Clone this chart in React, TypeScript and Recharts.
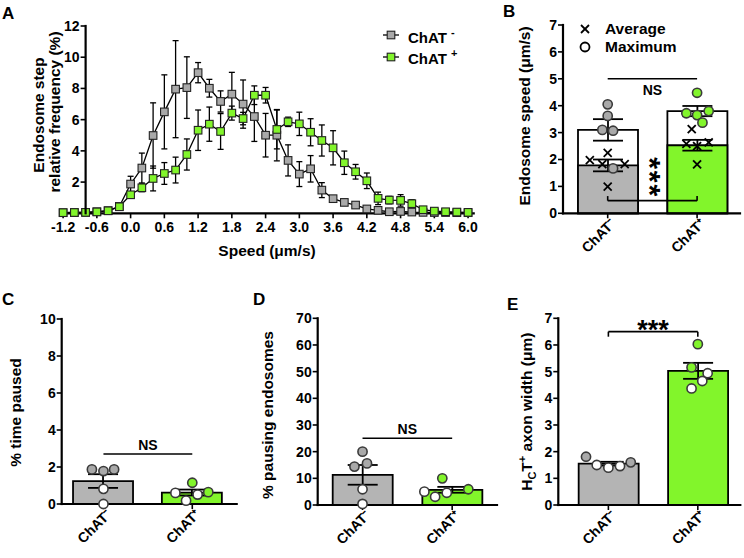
import React from 'react';
import {
  ComposedChart, Line, Bar, Scatter, Cell, XAxis, YAxis,
  ErrorBar, ReferenceLine, Legend,
} from 'recharts';

const FONT = '"Liberation Sans", Arial, Helvetica, sans-serif';
const GRAY_BAR = '#b4b4b4';
const GRAY_PT = '#a9a9a9';
const GREEN = '#82f52b';
const PT_STROKE = '#3a3a3a';

// ---------------- Panel A data ----------------
const speeds = [-1.2, -1.0, -0.8, -0.6, -0.4, -0.2, 0.0, 0.2, 0.4, 0.6, 0.8, 1.0, 1.2, 1.4, 1.6, 1.8, 2.0, 2.2, 2.4, 2.6, 2.8, 3.0, 3.2, 3.4, 3.6, 3.8, 4.0, 4.2, 4.4, 4.6, 4.8, 5.0, 5.2, 5.4, 5.6, 5.8, 6.0];
const grayFreq = [0, 0.01, 0.02, 0.06, 0.13, 0.4, 1.84, 2.87, 4.96, 6.48, 7.94, 8.04, 9.0, 8.0, 7.15, 7.62, 6.98, 6.18, 4.98, 4.98, 3.36, 2.48, 2.82, 1.45, 0.9, 0.66, 0.49, 0.24, 0.15, 0.06, 0.08, 0.04, 0.02, 0.01, 0.01, 0, 0];
const grayFreqSem = [0, 0, 0, 0.03, 0.05, 0.1, 0.5, 0.96, 2.1, 2.38, 3.12, 1.98, 0.65, 0.57, 0.68, 1.4, 1.55, 1.6, 1.4, 1.65, 1.0, 0.8, 0.85, 0.48, 0.15, 0.1, 0.06, 0.05, 0.04, 0.03, 0.12, 0.02, 0.01, 0, 0, 0, 0];
const greenFreq = [0, 0.01, 0.02, 0.05, 0.12, 0.38, 1.15, 1.6, 2.2, 2.52, 2.74, 3.74, 5.3, 5.69, 5.22, 6.4, 6.05, 7.55, 7.55, 5.35, 5.84, 5.71, 5.17, 4.64, 4.17, 3.21, 2.63, 2.05, 0.92, 0.81, 0.79, 0.58, 0.19, 0.1, 0.06, 0.04, 0.02];
const greenFreqSem = [0, 0, 0, 0.02, 0.04, 0.08, 0.2, 0.25, 0.8, 0.7, 0.83, 1.0, 1.3, 1.1, 1.15, 0.45, 0.4, 0.6, 0.5, 1.25, 0.3, 0.75, 0.87, 1.0, 1.1, 0.75, 0.47, 0.5, 0.4, 0.24, 0.37, 0.25, 0.1, 0.05, 0.03, 0.02, 0.01];
const speedTicks = [-1.2, -0.6, 0, 0.6, 1.2, 1.8, 2.4, 3.0, 3.6, 4.2, 4.8, 5.4, 6.0];
const freqTicks = [2, 4, 6, 8, 10, 12];

// ---------------- groups ----------------
const groupLabels = ['ChAT\u207B', 'ChAT\u207A'];

// ---------------- Panel B data ----------------
const bMaxMean = [3.1, 3.8];
const bMaxSem = [0.4, 0.19];
const bAvgMean = [1.78, 2.53];
const bAvgSem = [0.22, 0.2];
const bGrayMax = [4.05, 3.62, 3.1, 3.07, 1.67];
const bGrayMaxJit = [0, 0, -0.06, 0.06, 0.06];
const bGrayAvg = [2.25, 1.98, 1.83, 1.83, 0.99];
const bGrayAvgJit = [0, -0.2, -0.06, 0.19, 0];
const bGreenMax = [4.48, 3.72, 3.65, 3.8, 3.37];
const bGreenMaxJit = [0, -0.12, 0, 0.13, 0.06];
const bGreenAvg = [3.13, 2.58, 2.5, 2.64, 1.82];
const bGreenAvgJit = [-0.06, -0.12, 0, 0.13, 0];
const bTicks = [0, 1, 2, 3, 4, 5, 6, 7];

// ---------------- Panel C data ----------------
const cMean = [1.24, 0.62];
const cSem = [0.37, 0.16];
const cGray = [1.87, 1.78, 1.87, 0.82, 0];
const cGrayJit = [-0.13, 0, 0.12, 0, 0];
const cGreen = [1.15, 0.6, 0.18, 0.51, 0.64];
const cGreenJit = [0, -0.19, -0.07, 0.06, 0.18];
const cTicks = [0, 2, 4, 6, 8, 10];

// ---------------- Panel D data ----------------
const dMean = [11.3, 5.7];
const dSem = [3.7, 1.1];
const dGray = [20, 14.4, 15.6, 5.9, 0.4];
const dGrayJit = [0, -0.09, 0.05, 0, 0];
const dGreen = [10, 5, 3.1, 4.6, 5.9];
const dGreenJit = [-0.11, -0.31, -0.19, -0.06, 0.18];
const dTicks = [0, 10, 20, 30, 40, 50, 60, 70];

// ---------------- Panel E data ----------------
const eMean = [1.55, 5.03];
const eSem = [0.07, 0.3];
const eGray = [1.81, 1.5, 1.4, 1.46, 1.6];
const eGrayJit = [-0.25, -0.13, 0, 0.13, 0.25];
const eGreen = [6.03, 5.16, 4.94, 4.65, 4.37];
const eGreenJit = [0, -0.07, 0.11, 0.05, -0.07];
const eTicks = [0, 1, 2, 3, 4, 5, 6, 7];

// ---------------- helpers ----------------
type Box = { left: number; top: number; width: number; height: number };

function margins(box: Box, plot: Box, yAxisW: number, xAxisH: number) {
  const l = plot.left - box.left;
  const t = plot.top - box.top;
  return {
    left: l - yAxisW,
    top: t,
    right: box.width - l - plot.width,
    bottom: box.height - t - plot.height - xAxisH,
  };
}

const barRows = (mean: number[], sem: number[]) => mean.map((y, i) => ({ x: i, y, e: sem[i] }));
const ptRows = (vals: number[], jit: number[], g: number) => vals.map((y, i) => ({ x: g + jit[i], y }));

const tickStyle = { fontSize: 14, fontWeight: 700, fill: '#000', fontFamily: FONT };
const catTickStyle = { ...tickStyle, angle: -45, textAnchor: 'end', dx: 2, dy: -3 };
const tickLineStyle = { stroke: '#000', strokeWidth: 1.6 };
const axisLineStyle = { stroke: '#000', strokeWidth: 2.2, strokeLinecap: 'square' as const };

const VTitle = ({ x, y, children, size = 15.5 }: any) => (
  <g transform={`translate(${x} ${y}) rotate(-90)`}>
    <text x={0} y={0} textAnchor="middle" fontFamily={FONT} fontWeight={700} fontSize={size} fill="#000">{children}</text>
  </g>
);

const circleShape = (fill: string, mean: number | null) => (props: any) => {
  const { cx, cy, payload } = props;
  const f = mean != null && payload.y < mean ? '#ffffff' : fill;
  return <circle cx={cx} cy={cy} r={4.6} fill={f} stroke={PT_STROKE} strokeWidth={1.6} />;
};

const crossShape = (props: any) => {
  const { cx, cy } = props;
  const h = 4;
  return (
    <g>
      <line x1={cx - h} y1={cy - h} x2={cx + h} y2={cy + h} stroke="#000" strokeWidth={1.8} />
      <line x1={cx - h} y1={cy + h} x2={cx + h} y2={cy - h} stroke="#000" strokeWidth={1.8} />
    </g>
  );
};

// ---------------- Panel A ----------------
const A_BOX: Box = { left: 0, top: 0, width: 490, height: 270 };
const A_PLOT: Box = { left: 60.3, top: 26, width: 413.4, height: 187.3 };
const A_XDOM: [number, number] = [-1.25, 6.1];
const A_YDOM: [number, number] = [0, 12];
const A_XH = 45;
const A_YAXIS_AT = -0.8;
// the y axis of panel A crosses the x axis at -0.8, inside the data range
const aYAxisPx = A_PLOT.left + ((A_YAXIS_AT - A_XDOM[0]) / (A_XDOM[1] - A_XDOM[0])) * A_PLOT.width;
const aYPx = (v: number) => A_PLOT.top + (1 - (v - A_YDOM[0]) / (A_YDOM[1] - A_YDOM[0])) * A_PLOT.height;

const aRows = speeds.map((x, i) => ({
  x, gray: grayFreq[i], grayE: grayFreqSem[i], green: greenFreq[i], greenE: greenFreqSem[i],
}));

const squareDot = (fill: string, tag: string) => (props: any) => {
  const { cx, cy, index } = props;
  if (cx == null || cy == null) return <g key={`${tag}${index}`} />;
  return <rect key={`${tag}${index}`} x={cx - 3.8} y={cy - 3.8} width={7.6} height={7.6} fill={fill} stroke="#222" strokeWidth={1.1} />;
};

const legendAItems = [
  { fill: GRAY_PT, sign: '-' },
  { fill: GREEN, sign: '+' },
];

const LegendA = () => (
  <svg width={95} height={48} style={{ display: 'block', overflow: 'visible' }}>
    {legendAItems.map((it, i) => (
      <g key={i}>
        <line x1={5} x2={21} y1={13 + i * 22} y2={13 + i * 22} stroke="#000" strokeWidth={1.3} />
        <rect x={13 - 3.8} y={13 + i * 22 - 3.8} width={7.6} height={7.6} fill={it.fill} stroke="#222" strokeWidth={1.1} />
        <text x={30} y={20.5 + i * 21} fontFamily={FONT} fontWeight={700} fontSize={15} fill="#000">
          ChAT<tspan dx={4} dy={-7} fontSize={11}>{it.sign}</tspan>
        </text>
      </g>
    ))}
  </svg>
);

const AYAxis = () => (
  <g>
    <line x1={aYAxisPx} x2={aYAxisPx} y1={aYPx(A_YDOM[1])} y2={aYPx(A_YDOM[0])} stroke="#000" strokeWidth={2.2} strokeLinecap="square" />
    {freqTicks.map((t) => (
      <g key={t}>
        <line x1={aYAxisPx - 5} x2={aYAxisPx} y1={aYPx(t)} y2={aYPx(t)} stroke="#000" strokeWidth={1.6} />
        <text x={aYAxisPx - 6} y={aYPx(t)} dy="0.355em" textAnchor="end" fontFamily={FONT} fontWeight={700} fontSize={14} fill="#000">{t}</text>
      </g>
    ))}
    <VTitle x={44} y={115}>Endosome step</VTitle>
    <VTitle x={59.5} y={112}>relative frequency (%)</VTitle>
  </g>
);

function PanelA() {
  const mData = margins(A_BOX, A_PLOT, 0, A_XH);
  return (
    <div style={{ position: 'absolute', left: A_BOX.left, top: A_BOX.top }}>
      <ComposedChart width={A_BOX.width} height={A_BOX.height} data={aRows} margin={mData}>
        <XAxis type="number" dataKey="x" domain={A_XDOM} ticks={speedTicks} interval={0}
          tickFormatter={(v: number) => v.toFixed(1)} height={A_XH} tick={tickStyle}
          tickLine={tickLineStyle} tickSize={5} tickMargin={4} axisLine={axisLineStyle}
          label={() => (
            <text x={A_PLOT.left + A_PLOT.width / 2 - A_BOX.left} y={255.5 - A_BOX.top} textAnchor="middle"
              fontFamily={FONT} fontWeight={700} fontSize={15.5} fill="#000">Speed (μm/s)</text>
          )} />
        <YAxis type="number" domain={A_YDOM} hide />
        <Line dataKey="gray" type="linear" stroke="#000" strokeWidth={1.3} isAnimationActive={false}
          dot={squareDot(GRAY_PT, 'g')} activeDot={false}>
          <ErrorBar dataKey="grayE" width={3} stroke="#000" strokeWidth={1.3} direction="y" />
        </Line>
        <Line dataKey="green" type="linear" stroke="#000" strokeWidth={1.3} isAnimationActive={false}
          dot={squareDot(GREEN, 'n')} activeDot={false}>
          <ErrorBar dataKey="greenE" width={3} stroke="#000" strokeWidth={1.3} direction="y" />
        </Line>
        <Legend layout="vertical" align="center" verticalAlign="middle"
          wrapperStyle={{ left: 378 - A_BOX.left, top: 22 - A_BOX.top, width: 95, height: 48 }}
          content={() => <LegendA />} />
      </ComposedChart>
    </div>
  );
}

// ---------------- Panel B ----------------
const B_BOX: Box = { left: 490, top: 0, width: 254, height: 300 };
const B_PLOT: Box = { left: 563, top: 25, width: 177, height: 188.3 };
const B_XDOM: [number, number] = [-0.5, 1.48];

const bRows = bMaxMean.map((mx, i) => ({ x: i, max: mx, maxE: bMaxSem[i], avg: bAvgMean[i], avgE: bAvgSem[i] }));
const barFills = [GRAY_BAR, GREEN];
const ptFills = [GRAY_PT, GREEN];

const LegendB = () => (
  <svg width={110} height={42} style={{ display: 'block', overflow: 'visible' }}>
    <line x1={3} y1={7} x2={11} y2={15} stroke="#000" strokeWidth={1.8} />
    <line x1={3} y1={15} x2={11} y2={7} stroke="#000" strokeWidth={1.8} />
    <circle cx={7} cy={29} r={4.5} fill="#fff" stroke="#000" strokeWidth={1.8} />
    <text x={27} y={16.3} fontFamily={FONT} fontWeight={700} fontSize={15.5} fill="#000">Average</text>
    <text x={27} y={33.7} fontFamily={FONT} fontWeight={700} fontSize={15.5} fill="#000">Maximum</text>
  </svg>
);

const catFormatter = (v: number) => groupLabels[Math.round(v)] ?? '';

function PanelB() {
  const m = margins(B_BOX, B_PLOT, 30, 60);
  return (
    <div style={{ position: 'absolute', left: B_BOX.left, top: B_BOX.top }}>
      <ComposedChart width={B_BOX.width} height={B_BOX.height} data={bRows} margin={m}>
        <XAxis xAxisId={0} type="number" dataKey="x" domain={B_XDOM} ticks={[0, 1]} interval={0} height={60}
          tick={catTickStyle} tickFormatter={catFormatter} tickLine={tickLineStyle} tickSize={5} tickMargin={2} axisLine={axisLineStyle} />
        <XAxis xAxisId={1} type="number" dataKey="x" domain={B_XDOM} hide />
        <XAxis xAxisId={2} type="number" dataKey="x" domain={B_XDOM} hide />
        <YAxis type="number" dataKey="y" domain={[0, 7]} ticks={bTicks} interval={0} width={30}
          tick={tickStyle} tickLine={tickLineStyle} tickSize={5} tickMargin={1} axisLine={axisLineStyle}
          label={() => <VTitle x={529.5 - B_BOX.left} y={116 - B_BOX.top}>Endosome speed (μm/s)</VTitle>} />
        <Bar xAxisId={1} dataKey="max" barSize={60} fill="#fff" stroke="#000" strokeWidth={1.8} isAnimationActive={false}>
          <ErrorBar dataKey="maxE" width={15} stroke="#000" strokeWidth={1.8} direction="y" />
        </Bar>
        <Bar xAxisId={0} dataKey="avg" barSize={60} stroke="#000" strokeWidth={1.8} isAnimationActive={false}>
          {bRows.map((_, i) => <Cell key={i} fill={barFills[i]} />)}
          <ErrorBar dataKey="avgE" width={15} stroke="#000" strokeWidth={1.8} direction="y" />
        </Bar>
        <Scatter xAxisId={2} data={ptRows(bGrayAvg, bGrayAvgJit, 0)} shape={crossShape} isAnimationActive={false} />
        <Scatter xAxisId={2} data={ptRows(bGreenAvg, bGreenAvgJit, 1)} shape={crossShape} isAnimationActive={false} />
        <Scatter xAxisId={2} data={ptRows(bGrayMax, bGrayMaxJit, 0)} shape={circleShape(ptFills[0], null)} isAnimationActive={false} />
        <Scatter xAxisId={2} data={ptRows(bGreenMax, bGreenMaxJit, 1)} shape={circleShape(ptFills[1], null)} isAnimationActive={false} />
        <ReferenceLine xAxisId={0} segment={[{ x: 0, y: 5 }, { x: 1, y: 5 }]} stroke="#000" strokeWidth={1.6}
          label={(p: any) => {
            const vb = p.viewBox || {};
            return <text x={vb.x + vb.width / 2} y={vb.y + 16} textAnchor="middle" fontFamily={FONT} fontWeight={700} fontSize={14} fill="#000">NS</text>;
          }} />
        <ReferenceLine xAxisId={0} segment={[{ x: 0, y: 0.47 }, { x: 1, y: 0.47 }]} stroke="#000" strokeWidth={1.6}
          label={(p: any) => {
            const vb = p.viewBox || {};
            const cx = vb.x + vb.width / 2 - 12;
            const cy = vb.y - 23;
            return (
              <g transform={`translate(${cx} ${cy}) rotate(90)`}>
                <text x={0} y={0} textAnchor="middle" fontFamily={FONT} fontWeight={700} fontSize={30} letterSpacing={2} fill="#000">***</text>
              </g>
            );
          }} />
        <ReferenceLine xAxisId={0} segment={[{ x: 0, y: 0.47 }, { x: 0, y: 0.64 }]} stroke="#000" strokeWidth={1.6} />
        <ReferenceLine xAxisId={0} segment={[{ x: 1, y: 0.47 }, { x: 1, y: 0.64 }]} stroke="#000" strokeWidth={1.6} />
        <Legend layout="vertical" align="center" verticalAlign="middle"
          wrapperStyle={{ left: 578 - B_BOX.left, top: 18 - B_BOX.top, width: 110, height: 42 }}
          content={() => <LegendB />} />
      </ComposedChart>
    </div>
  );
}

// ---------------- Simple bar panels (C, D, E) ----------------
type SimpleCfg = {
  box: Box; plot: Box; xDom: [number, number]; yDom: [number, number]; yTicks: number[];
  mean: number[]; sem: number[]; grayPts: number[]; grayJit: number[]; greenPts: number[]; greenJit: number[];
  title: React.ReactNode; titlePos: [number, number];
  sig: { y: number; text: string; bracket?: number; font?: number; above?: number };
};

function SimplePanel({ cfg }: { cfg: SimpleCfg }) {
  const { box, plot } = cfg;
  const m = margins(box, plot, 30, 50);
  const rows = barRows(cfg.mean, cfg.sem);
  const sig = cfg.sig;
  return (
    <div style={{ position: 'absolute', left: box.left, top: box.top }}>
      <ComposedChart width={box.width} height={box.height} data={rows} margin={m}>
        <XAxis xAxisId={0} type="number" dataKey="x" domain={cfg.xDom} ticks={[0, 1]} interval={0} height={50}
          tick={catTickStyle} tickFormatter={catFormatter} tickLine={tickLineStyle} tickSize={5} tickMargin={2} axisLine={axisLineStyle} />
        <XAxis xAxisId={1} type="number" dataKey="x" domain={cfg.xDom} hide />
        <YAxis type="number" dataKey="y" domain={cfg.yDom} ticks={cfg.yTicks} interval={0} width={30}
          tick={tickStyle} tickLine={tickLineStyle} tickSize={5} tickMargin={1} axisLine={axisLineStyle}
          label={() => <VTitle x={cfg.titlePos[0] - box.left} y={cfg.titlePos[1] - box.top}>{cfg.title}</VTitle>} />
        <Bar xAxisId={0} dataKey="y" barSize={60} stroke="#000" strokeWidth={1.8} isAnimationActive={false}>
          {rows.map((_, i) => <Cell key={i} fill={barFills[i]} />)}
          <ErrorBar dataKey="e" width={15} stroke="#000" strokeWidth={1.8} direction="y" />
        </Bar>
        <Scatter xAxisId={1} data={ptRows(cfg.grayPts, cfg.grayJit, 0)} shape={circleShape(GRAY_PT, cfg.mean[0])} isAnimationActive={false} />
        <Scatter xAxisId={1} data={ptRows(cfg.greenPts, cfg.greenJit, 1)} shape={circleShape(GREEN, cfg.mean[1])} isAnimationActive={false} />
        <ReferenceLine xAxisId={0} segment={[{ x: 0, y: sig.y }, { x: 1, y: sig.y }]} stroke="#000" strokeWidth={1.6}
          label={(p: any) => {
            const vb = p.viewBox || {};
            return <text x={vb.x + vb.width / 2} y={vb.y - (sig.above ?? 4)} textAnchor="middle" fontFamily={FONT}
              fontWeight={700} fontSize={sig.font ?? 14} fill="#000">{sig.text}</text>;
          }} />
        {sig.bracket != null && (
          <ReferenceLine xAxisId={0} segment={[{ x: 0, y: sig.y }, { x: 0, y: sig.bracket }]} stroke="#000" strokeWidth={1.6} />
        )}
        {sig.bracket != null && (
          <ReferenceLine xAxisId={0} segment={[{ x: 1, y: sig.y }, { x: 1, y: sig.bracket }]} stroke="#000" strokeWidth={1.6} />
        )}
      </ComposedChart>
    </div>
  );
}

const cCfg: SimpleCfg = {
  box: { left: 0, top: 290, width: 250, height: 268 },
  plot: { left: 61.7, top: 319, width: 175, height: 185 },
  xDom: [-0.47, 1.5], yDom: [0, 10], yTicks: cTicks,
  mean: cMean, sem: cSem, grayPts: cGray, grayJit: cGrayJit, greenPts: cGreen, greenJit: cGreenJit,
  title: '% time paused', titlePos: [21, 412.5],
  sig: { y: 2.7, text: 'NS' },
};

const dCfg: SimpleCfg = {
  box: { left: 250, top: 290, width: 250, height: 268 },
  plot: { left: 317.7, top: 318.3, width: 179.3, height: 186.7 },
  xDom: [-0.5, 1.5], yDom: [0, 70], yTicks: dTicks,
  mean: dMean, sem: dSem, grayPts: dGray, grayJit: dGrayJit, greenPts: dGreen, greenJit: dGreenJit,
  title: '% pausing endosomes', titlePos: [272.5, 415],
  sig: { y: 25, text: 'NS' },
};

const eCfg: SimpleCfg = {
  box: { left: 490, top: 290, width: 254, height: 268 },
  plot: { left: 558.3, top: 318.3, width: 182, height: 186.7 },
  xDom: [-0.56, 1.475], yDom: [0, 7], yTicks: eTicks,
  mean: eMean, sem: eSem, grayPts: eGray, grayJit: eGrayJit, greenPts: eGreen, greenJit: eGreenJit,
  title: (
    <>
      H<tspan dy={4} fontSize={11}>C</tspan><tspan dy={-4}>T</tspan><tspan dy={-6} fontSize={11}>+</tspan><tspan dy={6}> axon width (μm)</tspan>
    </>
  ),
  titlePos: [532, 411.7],
  sig: { y: 6.5, text: '***', bracket: 6.31, font: 27, above: -7 },
};

const panelLetters = [
  { t: 'A', x: 2, y: 19 },
  { t: 'B', x: 503, y: 17 },
  { t: 'C', x: 2, y: 305 },
  { t: 'D', x: 253, y: 305 },
  { t: 'E', x: 507, y: 310 },
];

export default function App() {
  return (
    <div style={{ position: 'absolute', left: 0, top: 0, width: 744, height: 558, background: '#fff', overflow: 'hidden', fontFamily: FONT }}>
      <PanelA />
      <PanelB />
      <SimplePanel cfg={cCfg} />
      <SimplePanel cfg={dCfg} />
      <SimplePanel cfg={eCfg} />
      <svg width={744} height={558} style={{ position: 'absolute', left: 0, top: 0, pointerEvents: 'none' }}>
        <AYAxis />
        {panelLetters.map((l) => (
          <text key={l.t} x={l.x} y={l.y} fontFamily={FONT} fontWeight={700} fontSize={17} fill="#000">{l.t}</text>
        ))}
      </svg>
    </div>
  );
}
